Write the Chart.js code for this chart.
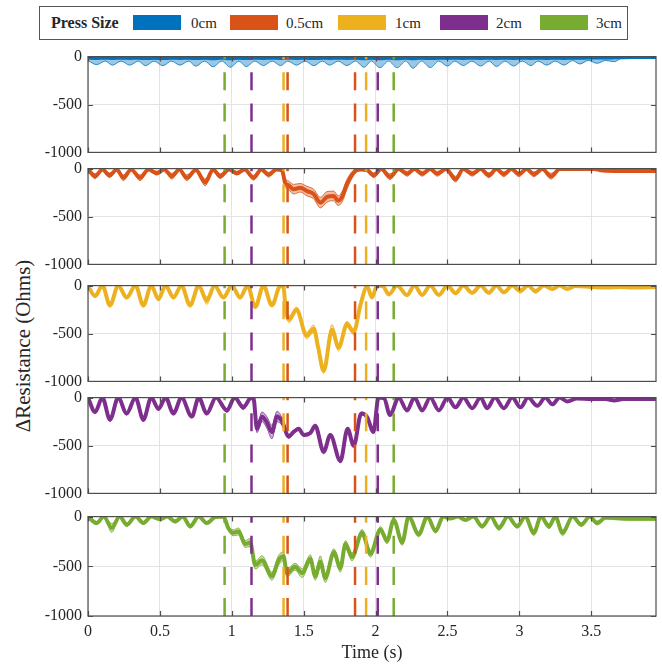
<!DOCTYPE html>
<html>
<head>
<meta charset="utf-8">
<script src="https://cdn.jsdelivr.net/npm/chart.js@4.4.0/dist/chart.umd.min.js"></script>
<style>
  html, body { margin: 0; padding: 0; background: #fff; }
  #page { position: relative; width: 662px; height: 666px; overflow: hidden;
          font-family: 'Liberation Serif', 'Times New Roman', serif; color: #262626; }
  .panel { position: absolute; left: 0; width: 662px; }
  #legend { position: absolute; left: 39px; top: 6px; width: 589px; height: 34px;
            box-sizing: border-box; border: 1px solid #555; background: #fff; }
  #legend span { position: absolute; top: 0; line-height: 32px; font-size: 15px; white-space: nowrap; }
  #legend .head { font-weight: bold; font-size: 16px; }
  #legend i { position: absolute; top: 8px; width: 48px; height: 15px; }
  #ytitle { position: absolute; left: 23px; top: 346px; font-size: 21px; white-space: nowrap;
            transform: translate(-50%, -50%) rotate(-90deg); }
</style>
</head>
<body>
<div id="page">
  <div id="legend">
    <span class="head" style="left:11px">Press Size</span>
    <i style="left:93px;  background:#0072BD"></i><span style="left:151px">0cm</span>
    <i style="left:190px; background:#D95319"></i><span style="left:246px">0.5cm</span>
    <i style="left:298px; background:#EDB120"></i><span style="left:355px">1cm</span>
    <i style="left:400px; background:#7E2F8E"></i><span style="left:456px">2cm</span>
    <i style="left:500px; background:#77AC30"></i><span style="left:556px">3cm</span>
  </div>
  <div id="ytitle">ΔResistance (Ohms)</div>
  <div class="panel" id="wrap0"><canvas id="c0"></canvas></div>
  <div class="panel" id="wrap1"><canvas id="c1"></canvas></div>
  <div class="panel" id="wrap2"><canvas id="c2"></canvas></div>
  <div class="panel" id="wrap3"><canvas id="c3"></canvas></div>
  <div class="panel" id="wrap4"><canvas id="c4"></canvas></div>
</div>
<script>
/* ── Data ─────────────────────────────────────────────────────────── */

const pressSizes = ['0cm', '0.5cm', '1cm', '2cm', '3cm'];

// 0cm
const tBlue = [0, 0.06, 0.12, 0.17, 0.23, 0.29, 0.35, 0.40, 0.46, 0.52,
    0.58, 0.64, 0.70, 0.75, 0.81, 0.87, 0.93, 0.99, 1.05, 1.10,
    1.16, 1.22, 1.28, 1.34, 1.39, 1.45, 1.51, 1.57, 1.63, 1.68,
    1.74, 1.80, 1.86, 1.92, 1.97, 2.03, 2.09, 2.15, 2.21, 2.26,
    2.32, 2.38, 2.44, 2.50, 2.55, 2.61, 2.67, 2.73, 2.79, 2.84,
    2.90, 2.96, 3.02, 3.08, 3.13, 3.19, 3.25, 3.31, 3.37, 3.42,
    3.48, 3.54, 3.60, 3.66, 3.71, 3.80, 3.95];
const meanBlue = [-10, -14, -12, -14, -12, -14, -12, -15, -12, -15,
    -12, -14, -12, -15, -12, -16, -12, -16, -12, -15,
    -12, -14, -12, -14, -12, -14, -12, -15, -12, -14,
    -12, -14, -12, -16, -12, -16, -12, -16, -12, -16,
    -12, -15, -12, -14, -12, -14, -12, -14, -12, -14,
    -12, -14, -12, -14, -12, -14, -12, -14, -12, -12,
    -10, -10, -10, -8, -6, -5, -5];
const sdBlue = [30, 70, 35, 75, 35, 75, 35, 80, 35, 80,
    35, 75, 35, 85, 35, 90, 35, 95, 35, 90,
    35, 80, 35, 80, 35, 75, 35, 80, 35, 75,
    35, 80, 35, 95, 35, 100, 35, 100, 35, 105,
    35, 100, 35, 85, 35, 80, 35, 85, 35, 90,
    35, 85, 35, 80, 35, 75, 35, 75, 30, 65,
    30, 60, 30, 45, 12, 5, 5];

// 0.5cm
const tOrange = [0, 0.049, 0.10, 0.15, 0.20, 0.246, 0.30, 0.362, 0.42, 0.478,
    0.53, 0.583, 0.635, 0.687, 0.75, 0.815, 0.87, 0.919, 0.98, 1.035,
    1.09, 1.151, 1.205, 1.256, 1.31, 1.35, 1.37, 1.395, 1.43, 1.476,
    1.523, 1.569, 1.616, 1.662, 1.708, 1.74, 1.77, 1.80, 1.86, 1.90,
    1.94, 1.987, 2.04, 2.10, 2.16, 2.22, 2.27, 2.324, 2.38, 2.428,
    2.49, 2.556, 2.61, 2.672, 2.73, 2.788, 2.84, 2.892, 2.945, 2.997,
    3.05, 3.10, 3.16, 3.22, 3.28, 3.40, 3.52, 3.58, 3.70, 3.95];
const meanOrange = [-5, -80, -10, -70, -10, -96, -10, -96, -10, -48,
    -10, -80, -10, -96, -15, -144, -10, -80, -10, -48,
    -10, -96, -10, -64, -10, -20, -145, -175, -215, -200,
    -235, -265, -355, -295, -285, -335, -285, -165, -25, -10,
    -15, -70, -5, -86, -5, -54, -5, -54, -5, -54,
    -5, -110, -5, -54, -5, -70, -5, -60, -5, -60,
    -5, -60, -5, -80, -5, -3, -3, -20, -25, -25];
const sdOrange = [10, 25, 10, 25, 10, 30, 10, 30, 10, 20,
    10, 30, 10, 30, 10, 35, 10, 25, 10, 20,
    10, 25, 10, 25, 10, 15, 40, 45, 50, 45,
    50, 50, 55, 55, 50, 50, 55, 50, 20, 10,
    10, 25, 10, 30, 10, 25, 10, 25, 10, 25,
    10, 30, 10, 25, 10, 25, 10, 25, 10, 25,
    10, 25, 10, 30, 8, 5, 5, 8, 8, 8];

// 1cm
const tYellow = [0, 0.049, 0.10, 0.153, 0.21, 0.269, 0.33, 0.385, 0.44, 0.49,
    0.54, 0.594, 0.65, 0.71, 0.77, 0.826, 0.88, 0.942, 1.0, 1.058,
    1.11, 1.163, 1.22, 1.279, 1.337, 1.36, 1.375, 1.40, 1.45, 1.52,
    1.57, 1.60, 1.639, 1.697, 1.743, 1.801, 1.848, 1.894, 1.941, 1.975,
    2.01, 2.05, 2.092, 2.15, 2.219, 2.27, 2.324, 2.38, 2.44, 2.50,
    2.556, 2.61, 2.672, 2.73, 2.788, 2.84, 2.892, 2.95, 3.008, 3.06,
    3.113, 3.17, 3.229, 3.28, 3.333, 3.39, 3.5, 3.6, 3.7, 3.8,
    3.95];
const meanYellow = [0, -108, 0, -206, 0, -124, 0, -206, 0, -140,
    0, -124, 0, -206, 0, -157, 0, -124, 0, -124,
    0, -222, 0, -206, -5, -20, -260, -350, -250, -520,
    -450, -640, -890, -460, -647, -402, -484, -206, -10, -124,
    0, -5, -92, 0, -98, 0, -98, 0, -98, 0,
    -80, 0, -75, 0, -75, 0, -70, 0, -55, 0,
    -60, 0, -35, 0, -35, -5, -15, -20, -15, -20,
    -15];
const sdYellow = [5, 15, 5, 20, 5, 15, 5, 20, 5, 20,
    5, 15, 5, 20, 5, 40, 5, 15, 5, 15,
    5, 15, 5, 15, 5, 10, 30, 35, 25, 35,
    40, 40, 25, 55, 35, 30, 30, 25, 10, 15,
    5, 5, 12, 5, 12, 5, 12, 5, 12, 5,
    12, 5, 12, 5, 12, 5, 12, 5, 25, 5,
    20, 5, 12, 5, 10, 5, 8, 8, 8, 8,
    8];

// 2cm
const tPurple = [0, 0.049, 0.10, 0.153, 0.21, 0.269, 0.33, 0.385, 0.44, 0.49,
    0.54, 0.594, 0.65, 0.722, 0.77, 0.826, 0.89, 0.966, 1.02, 1.08,
    1.13, 1.15, 1.175, 1.21, 1.244, 1.279, 1.314, 1.35, 1.395, 1.43,
    1.465, 1.50, 1.546, 1.58, 1.639, 1.685, 1.755, 1.805, 1.848, 1.90,
    1.94, 1.985, 2.02, 2.06, 2.10, 2.16, 2.219, 2.27, 2.324, 2.38,
    2.44, 2.50, 2.556, 2.61, 2.672, 2.73, 2.776, 2.83, 2.892, 2.95,
    3.008, 3.06, 3.125, 3.18, 3.229, 3.28, 3.333, 3.40, 3.50, 3.60,
    3.66, 3.72, 3.80, 3.95];
const meanPurple = [0, -150, 0, -230, 0, -166, 0, -230, 0, -118,
    0, -166, 0, -198, 0, -166, 0, -134, 0, -102,
    -5, 0, -326, -200, -260, -360, -198, -250, -406, -358,
    -326, -390, -370, -294, -566, -390, -662, -326, -502, -166,
    -200, -358, 0, -10, -182, 0, -134, 0, -134, 0,
    -134, 0, -102, 0, -110, 0, -110, 0, -110, 0,
    -102, 0, -86, 0, -70, 0, -40, -10, -15, -15,
    -30, -15, -15, -15];
const sdPurple = [5, 15, 5, 20, 5, 15, 5, 25, 5, 15,
    5, 15, 5, 15, 5, 15, 5, 20, 5, 25,
    5, 5, 40, 50, 60, 70, 55, 40, 20, 15,
    15, 15, 15, 15, 20, 15, 20, 15, 15, 15,
    15, 15, 5, 5, 12, 5, 10, 5, 10, 5,
    10, 5, 10, 5, 10, 5, 10, 5, 10, 5,
    10, 5, 10, 5, 10, 5, 10, 8, 8, 8,
    12, 8, 8, 8];

// 3cm
const tGreen = [0, 0.06, 0.11, 0.165, 0.22, 0.27, 0.33, 0.385, 0.44, 0.50,
    0.55, 0.606, 0.66, 0.71, 0.77, 0.826, 0.885, 0.942, 0.975, 1.01,
    1.047, 1.093, 1.128, 1.163, 1.21, 1.279, 1.325, 1.36, 1.383, 1.44,
    1.49, 1.546, 1.58, 1.616, 1.65, 1.71, 1.755, 1.79, 1.836, 1.906,
    1.964, 2.034, 2.08, 2.126, 2.185, 2.23, 2.30, 2.36, 2.417, 2.47,
    2.52, 2.57, 2.625, 2.68, 2.741, 2.80, 2.858, 2.92, 2.985, 3.04,
    3.10, 3.15, 3.206, 3.25, 3.30, 3.37, 3.43, 3.49, 3.54, 3.60,
    3.68, 3.80, 3.95];
const meanGreen = [0, -65, 0, -114, 0, -81, 0, -65, 0, -26,
    0, -49, 0, -98, 0, -65, -5, 0, -114, -163,
    -150, -276, -260, -488, -439, -600, -440, -400, -569, -504,
    -569, -423, -601, -455, -618, -358, -520, -276, -406, -163,
    -374, -130, -244, -33, -260, 0, -179, 0, -146, 0,
    -20, 0, -33, 0, -98, 0, -114, 0, -98, 0,
    -163, 0, -98, 0, -163, 0, -81, 0, -65, -10,
    -15, -20, -20];
const sdGreen = [5, 15, 5, 45, 5, 20, 5, 15, 5, 10,
    5, 15, 5, 20, 5, 15, 5, 5, 20, 30,
    35, 35, 40, 40, 45, 40, 50, 45, 40, 35,
    45, 40, 40, 60, 45, 35, 40, 35, 40, 35,
    35, 30, 30, 15, 30, 5, 25, 5, 20, 5,
    8, 5, 10, 5, 20, 5, 25, 5, 20, 5,
    30, 5, 25, 5, 30, 5, 20, 5, 20, 15,
    18, 18, 18];

// dashed event markers (time in s, and which press size they belong to)
const markerTimes = [0.95, 1.137, 1.36, 1.388, 1.857, 1.934, 2.015, 2.126];
const markerSizes = ['3cm', '2cm', '1cm', '0.5cm', '0.5cm', '1cm', '2cm', '3cm'];

/* ── Styling ──────────────────────────────────────────────────────── */

const sizeColors = { '0cm': '#0072BD', '0.5cm': '#D95319', '1cm': '#EDB120', '2cm': '#7E2F8E', '3cm': '#77AC30' };
const sizeFills  = {
    '0cm':   'rgba(0, 114, 189, 0.40)',
    '0.5cm': 'rgba(217, 83, 25, 0.38)',
    '1cm':   'rgba(237, 177, 32, 0.38)',
    '2cm':   'rgba(126, 47, 142, 0.38)',
    '3cm':   'rgba(119, 172, 48, 0.40)'
};

const series = [
    { t: tBlue,   mean: meanBlue,   sd: sdBlue },
    { t: tOrange, mean: meanOrange, sd: sdOrange },
    { t: tYellow, mean: meanYellow, sd: sdYellow },
    { t: tPurple, mean: meanPurple, sd: sdPurple },
    { t: tGreen,  mean: meanGreen,  sd: sdGreen }
];

const panelTops = [53, 165, 282, 394, 513];
const PANEL_H = 103;
const PAD = 12;
const TEXT = '#262626';
const GRID = '#e3e3e3';
const SERIF = 'Liberation Serif';

Chart.defaults.font.family = SERIF;
Chart.defaults.color = TEXT;

/* ── Helpers ──────────────────────────────────────────────────────── */

const framePlugin = {
    id: 'frame',
    afterDatasetsDraw(chart) {
        const { ctx, chartArea: a, scales: { x, y } } = chart;
        ctx.save();
        ctx.strokeStyle = '#4d4d4d';
        ctx.lineWidth = 1.2;
        ctx.strokeRect(a.left, a.top, a.right - a.left, a.bottom - a.top);
        ctx.beginPath();
        x.ticks.forEach(tk => {
            const px = Math.round(x.getPixelForValue(tk.value)) + 0.5;
            ctx.moveTo(px, a.bottom); ctx.lineTo(px, a.bottom - 5);
            ctx.moveTo(px, a.top);    ctx.lineTo(px, a.top + 5);
        });
        y.ticks.forEach(tk => {
            const py = Math.round(y.getPixelForValue(tk.value)) + 0.5;
            ctx.moveTo(a.left, py);  ctx.lineTo(a.left + 5, py);
            ctx.moveTo(a.right, py); ctx.lineTo(a.right - 5, py);
        });
        ctx.stroke();
        ctx.restore();
    }
};

function markerDatasets() {
    return markerTimes.map((t, i) => ({
        data: [{ x: t, y: -1000 }, { x: t, y: 0 }],
        borderColor: sizeColors[markerSizes[i]],
        borderWidth: 2.5,
        borderDash: [18, 13],
        fill: false
    }));
}

function seriesDatasets(s, size) {
    const pts = vals => s.t.map((t, i) => ({ x: t, y: vals[i] }));
    const hi  = s.mean.map((m, i) => m + s.sd[i]);
    const lo  = s.mean.map((m, i) => m - s.sd[i]);
    const color = sizeColors[size];
    return [
        { data: pts(s.mean), borderColor: color, borderWidth: 4, fill: false },
        { data: pts(hi), borderColor: color, borderWidth: 0.8, fill: '+1', backgroundColor: sizeFills[size] },
        { data: pts(lo), borderColor: color, borderWidth: 0.8, fill: false }
    ];
}

/* ── Panels ───────────────────────────────────────────────────────── */

series.forEach((s, idx) => {
    const last = idx === series.length - 1;
    const wrap = document.getElementById('wrap' + idx);
    wrap.style.top = (panelTops[idx] - PAD) + 'px';
    wrap.style.height = (last ? 666 - panelTops[idx] + PAD : PANEL_H + 2 * PAD) + 'px';

    new Chart(document.getElementById('c' + idx), {
        type: 'line',
        data: { datasets: [...markerDatasets(), ...seriesDatasets(s, pressSizes[idx])] },
        options: {
            responsive: true,
            maintainAspectRatio: false,
            animation: false,
            events: [],
            layout: { padding: { left: 0, right: 6, top: PAD, bottom: last ? 0 : PAD } },
            elements: {
                point: { radius: 0, hitRadius: 0 },
                line: { cubicInterpolationMode: 'monotone' }
            },
            plugins: { legend: { display: false }, tooltip: { enabled: false } },
            scales: {
                x: {
                    type: 'linear',
                    min: 0,
                    max: 3.95,
                    ticks: {
                        display: last,
                        stepSize: 0.5,
                        includeBounds: false,
                        autoSkip: false,
                        maxRotation: 0,
                        padding: 6,
                        color: TEXT,
                        font: { family: SERIF, size: 16 },
                        callback: v => String(v)
                    },
                    grid: { color: GRID, drawTicks: false },
                    border: { display: false },
                    title: {
                        display: last,
                        text: 'Time (s)',
                        color: TEXT,
                        font: { family: SERIF, size: 18 },
                        padding: { top: 0, bottom: 2 }
                    },
                    afterFit: sc => { sc.height = last ? 50 : 0; }
                },
                y: {
                    min: -1000,
                    max: 0,
                    ticks: {
                        stepSize: 500,
                        padding: 6,
                        color: TEXT,
                        font: { family: SERIF, size: 16 },
                        callback: v => String(v)
                    },
                    grid: { color: GRID, drawTicks: false },
                    border: { display: false },
                    afterFit: sc => { sc.width = 88; }
                }
            }
        },
        plugins: [framePlugin]
    });
});
</script>
</body>
</html>
